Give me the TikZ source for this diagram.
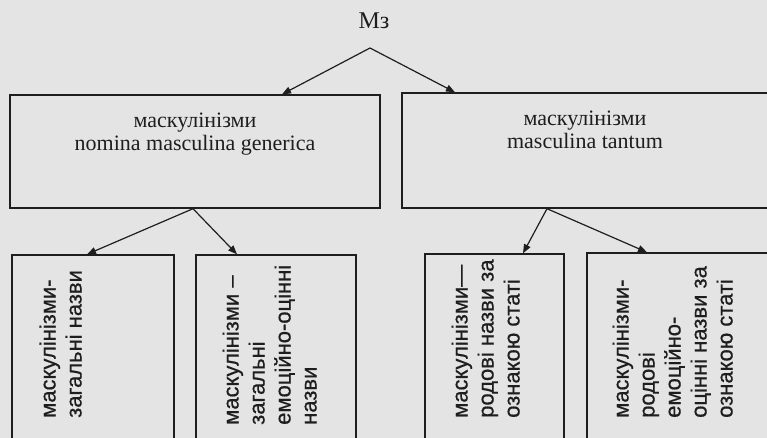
\documentclass[tikz,border=0pt]{standalone}
\usepackage{fontspec}
\setmainfont{Liberation Serif}
\newfontfamily\boxsans[FakeBold=0.6]{Liberation Sans}
\usetikzlibrary{arrows.meta}
\definecolor{paper}{RGB}{228,228,228}
\definecolor{ink}{RGB}{30,30,30}
\begin{document}
\begin{tikzpicture}[x=1pt,y=-1pt,
  box/.style={draw=ink, line width=1.4pt, inner sep=0pt},
  arr/.style={draw=ink, line width=1.2pt, -{Triangle[length=9pt,width=7pt]}},
  serif/.style={font=\fontsize{22}{23}\selectfont, text=ink, align=center, inner sep=0pt},
  vtext/.style={font=\boxsans\fontsize{22}{26}\selectfont, text=ink, align=left, rotate=90, anchor=base west, inner sep=0pt}]
\clip (0,0) rectangle (767,438);
\fill[paper] (0,0) rectangle (767,438);
% top
\node[serif, font=\fontsize{24}{26}\selectfont, anchor=base] (M) at (374,29) {Мз};
\coordinate (apex) at (370,48);
% middle boxes
\node[box, minimum width=370pt, minimum height=113pt] (L) at (195,151.5) {};
\node[box, minimum width=420pt, minimum height=115pt] (R) at (612,150.5) {};
\node[serif, anchor=base] (Lt) at (195,151) {маскулінізми\\nomina masculina generica};
\node[serif, anchor=base] (Rt) at (585,149) {маскулінізми\\masculina tantum};
% bottom boxes
\node[box, minimum width=162pt, minimum height=225pt] (B1) at (93,367.5) {};
\node[box, minimum width=160pt, minimum height=225pt] (B2) at (276,367.5) {};
\node[box, minimum width=139pt, minimum height=226pt] (B3) at (494.5,367) {};
\node[box, minimum width=213pt, minimum height=227pt] (B4) at (693.5,366.5) {};
\node[vtext] (T1) at (81.5,418) {маскулінізми-\\загальні назви};
\node[vtext] (T2) at (316.5,425) {маскулінізми –\\загальні\\емоційно-оцінні\\назви};
\node[vtext] (T3) at (519.5,418) {маскулінізми—\\родові назви за\\ознакою статі};
\node[vtext] (T4) at (732.5,418) {маскулінізми-\\родові\\емоційно-\\оцінні назви за\\ознакою статі};
% connectors
\draw[arr] (apex) -- ([xshift=87pt]L.north);
\draw[arr] (apex) -- ([xshift=-157pt]R.north);
\draw[arr] ([xshift=-2pt]L.south) -- ([xshift=-6pt]B1.north);
\draw[arr] ([xshift=-2pt]L.south) -- ([xshift=-39pt]B2.north);
\draw[arr] ([xshift=-65pt]R.south) -- ([xshift=28.5pt]B3.north);
\draw[arr] ([xshift=-65pt]R.south) -- ([xshift=-46.5pt]B4.north);
\end{tikzpicture}
\end{document}
